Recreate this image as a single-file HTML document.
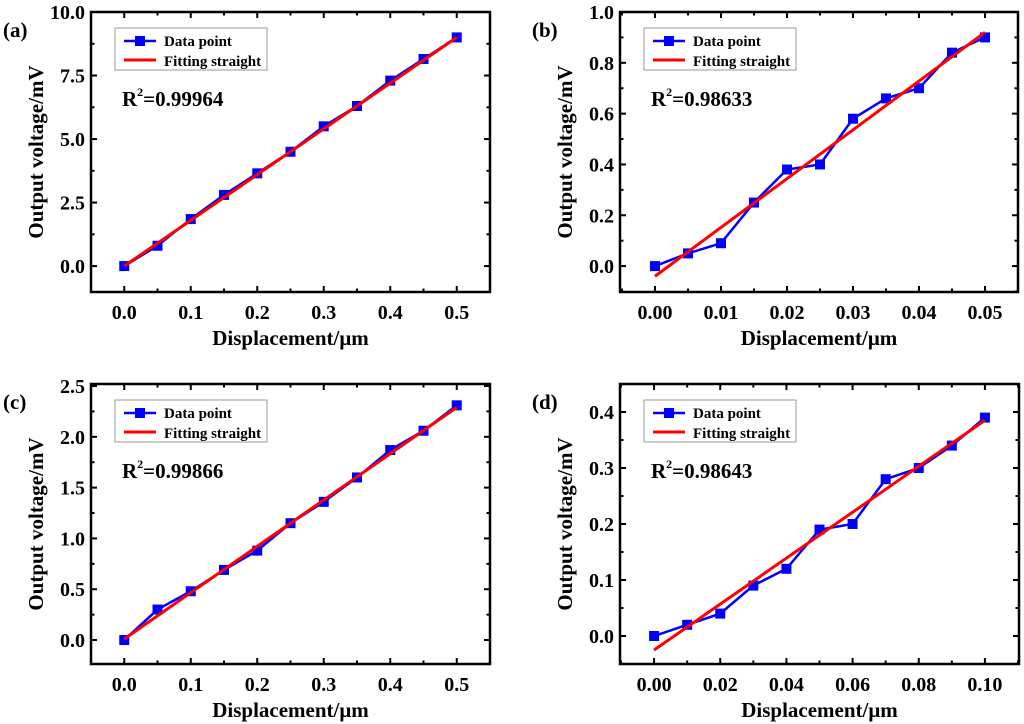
<!DOCTYPE html>
<html><head><meta charset="utf-8"><style>
body{margin:0;background:#fff}
svg{display:block;font-family:"Liberation Serif",serif;font-weight:bold}
</style></head><body>
<svg id="s" width="1024" height="724" viewBox="0 0 1024 724"></svg>
<script>
const xsA=[0,0.05,0.1,0.15,0.2,0.25,0.3,0.35,0.4,0.45,0.5];
const ysA=[0,0.8,1.85,2.8,3.65,4.5,5.5,6.3,7.3,8.15,9.0];
const fitA=[0,9.0];
const xsB=[0,0.005,0.01,0.015,0.02,0.025,0.03,0.035,0.04,0.045,0.05];
const ysB=[0,0.05,0.09,0.25,0.38,0.40,0.58,0.66,0.70,0.84,0.90];
const fitB=[-0.04,0.92];
const xsC=[0,0.05,0.1,0.15,0.2,0.25,0.3,0.35,0.4,0.45,0.5];
const ysC=[0,0.3,0.48,0.69,0.88,1.15,1.36,1.6,1.87,2.06,2.31];
const fitC=[0.01,2.29];
const xsD=[0,0.01,0.02,0.03,0.04,0.05,0.06,0.07,0.08,0.09,0.1];
const ysD=[0,0.02,0.04,0.09,0.12,0.19,0.2,0.28,0.3,0.34,0.39];
const fitD=[-0.025,0.385];
const xTicksA=["0.0","0.1","0.2","0.3","0.4","0.5"];
const yTicksA=["0.0","2.5","5.0","7.5","10.0"];
const xTicksB=["0.00","0.01","0.02","0.03","0.04","0.05"];
const yTicksB=["0.0","0.2","0.4","0.6","0.8","1.0"];
const yTicksC=["0.0","0.5","1.0","1.5","2.0","2.5"];
const xTicksD=["0.00","0.02","0.04","0.06","0.08","0.10"];
const yTicksD=["0.0","0.1","0.2","0.3","0.4"];
const R2=["0.99964","0.98633","0.99866","0.98643"];

const NS="http://www.w3.org/2000/svg";
const svg=document.getElementById('s');
function mk(t,a,p){const e=document.createElementNS(NS,t);for(const k in a)e.setAttribute(k,a[k]);(p||svg).appendChild(e);return e;}

function panel(o){
  const g=mk('g',{});
  
  
  const L=o.box[0],T=o.box[1],R=o.box[2],B=o.box[3];
  const sx=v=>L+(v-o.xr[0])/(o.xr[1]-o.xr[0])*(R-L);
  const sy=v=>B-(v-o.yr[0])/(o.yr[1]-o.yr[0])*(B-T);
  const xv=o.xt.map(Number), yv=o.yt.map(Number);
  const dx=xv[1]-xv[0], dy=yv[1]-yv[0];
  for(let v=xv[0]-dx/2;v<=o.xr[1]+1e-9;v+=dx/2){
    if(v<o.xr[0]-1e-9)continue;
    const maj=Math.abs(Math.round((v-xv[0])/dx)*dx-(v-xv[0]))<1e-9;
    const len=maj?6:3.5,X=sx(v);
    mk('line',{x1:X,x2:X,y1:B,y2:B-len,stroke:'#000','stroke-width':2},g);
    mk('line',{x1:X,x2:X,y1:T,y2:T+len,stroke:'#000','stroke-width':2},g);
  }
  for(let v=yv[0]-dy/2;v<=o.yr[1]+1e-9;v+=dy/2){
    if(v<o.yr[0]-1e-9)continue;
    const maj=Math.abs(Math.round((v-yv[0])/dy)*dy-(v-yv[0]))<1e-9;
    const len=maj?6:3.5,Y=sy(v);
    mk('line',{x1:L,x2:L+len,y1:Y,y2:Y,stroke:'#000','stroke-width':2},g);
    mk('line',{x1:R,x2:R-len,y1:Y,y2:Y,stroke:'#000','stroke-width':2},g);
  }
  o.xt.forEach((t,i)=>{const e=mk('text',{x:sx(xv[i]),y:B+27,'text-anchor':'middle','font-size':20},g);e.textContent=t;
    });
  o.yt.forEach((t,i)=>{const e=mk('text',{x:L-6,y:sy(yv[i])+7,'text-anchor':'end','font-size':20},g);e.textContent=t;
    });
  mk('rect',{x:L,y:T,width:R-L,height:B-T,fill:'none',stroke:'#000','stroke-width':2.5},g);
  const pl=mk('polyline',{points:o.xs.map((x,i)=>sx(x)+','+sy(o.ys[i])).join(' '),fill:'none',stroke:'#00f','stroke-width':2.5},g);
  
  o.xs.forEach((x,i)=>{const r=mk('rect',{x:sx(x)-5,y:sy(o.ys[i])-5,width:10,height:10,fill:'#00f'},g);
    });
  const fit=mk('line',{x1:sx(o.xs[0]),y1:sy(o.fit[0]),x2:sx(o.xs[o.xs.length-1]),y2:sy(o.fit[1]),stroke:'#f00','stroke-width':3},g);
  
  const lg=mk('g',{},g);
  const lx=L+24,ly=T+16;
  mk('rect',{x:lx,y:ly,width:152,height:42,fill:'#fff',stroke:'#999','stroke-width':1},lg);
  mk('line',{x1:lx+9,x2:lx+41,y1:ly+13,y2:ly+13,stroke:'#00f','stroke-width':2.5},lg);
  mk('rect',{x:lx+20,y:ly+8,width:10,height:10,fill:'#00f'},lg);
  mk('line',{x1:lx+9,x2:lx+41,y1:ly+32,y2:ly+32,stroke:'#f00','stroke-width':3},lg);
  let t=mk('text',{x:lx+49,y:ly+18,'font-size':15},lg);t.textContent='Data point';
  t=mk('text',{x:lx+49,y:ly+38,'font-size':15},lg);t.textContent='Fitting straight';
  t=mk('text',{x:lx+7,y:ly+78,'font-size':21},g);
  t.innerHTML='R<tspan font-size="12" dy="-10">2</tspan><tspan dy="10">='+o.r2+'</tspan>';
  
  t=mk('text',{x:L-88,y:T+25,'font-size':21},g);t.textContent='('+o.id+')';
  
  t=mk('text',{x:(L+R)/2,y:B+53,'text-anchor':'middle','font-size':21},g);t.textContent='Displacement/μm';
  
  const cy=(T+B)/2, ax=L-48;
  t=mk('text',{x:ax,y:cy,'text-anchor':'middle','font-size':21,transform:'rotate(-90 '+ax+' '+cy+')'},g);
  t.textContent='Output voltage/mV';
  
}
panel({id:'a',box:[91,12,490,292],xr:[-0.05,0.55],yr:[-1.02,10],xs:xsA,ys:ysA,fit:fitA,xt:xTicksA,yt:yTicksA,r2:R2[0]});
panel({id:'b',box:[620,12,1018,292],xr:[-0.0053,0.0550],yr:[-0.102,1.0],xs:xsB,ys:ysB,fit:fitB,xt:xTicksB,yt:yTicksB,r2:R2[1]});
panel({id:'c',box:[91,384,490,664],xr:[-0.05,0.55],yr:[-0.236,2.52],xs:xsC,ys:ysC,fit:fitC,xt:xTicksA,yt:yTicksC,r2:R2[2]});
panel({id:'d',box:[620,384,1019,664],xr:[-0.0103,0.1103],yr:[-0.05,0.45],xs:xsD,ys:ysD,fit:fitD,xt:xTicksD,yt:yTicksD,r2:R2[3]});
</script>
</body></html>
